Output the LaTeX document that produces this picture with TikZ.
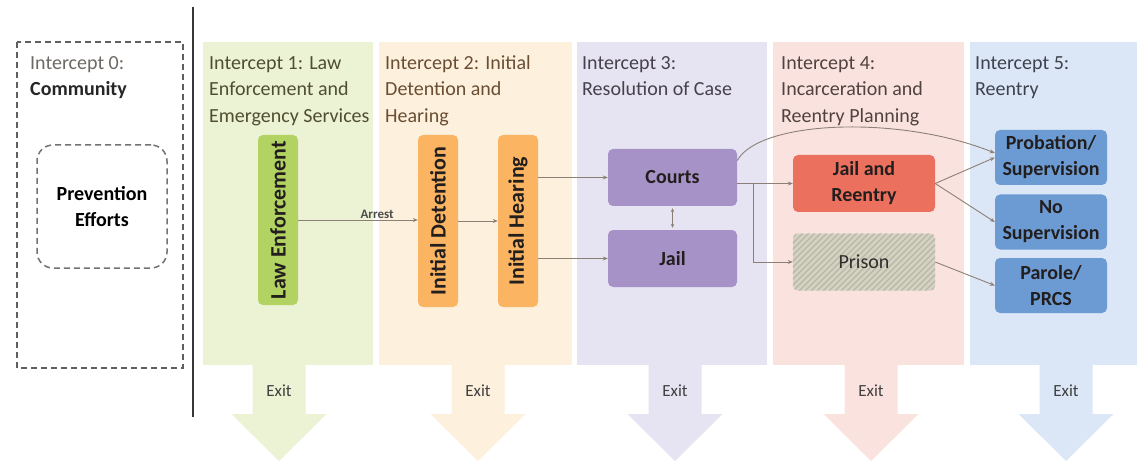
\documentclass[tikz,border=0pt]{standalone}
\usepackage{fontspec}
\setmainfont{Carlito}
\usetikzlibrary{arrows.meta,calc}
\definecolor{pgreen}{RGB}{236,242,212}
\definecolor{porange}{RGB}{253,240,220}
\definecolor{ppurple}{RGB}{230,228,242}
\definecolor{ppink}{RGB}{250,227,223}
\definecolor{pblue}{RGB}{219,231,246}
\definecolor{ngreen}{RGB}{178,210,98}
\definecolor{norange}{RGB}{250,180,98}
\definecolor{npurple}{RGB}{166,146,198}
\definecolor{nred}{RGB}{236,112,94}
\definecolor{nprison}{RGB}{212,210,194}
\definecolor{nhatch}{RGB}{184,182,162}
\definecolor{nblue}{RGB}{108,155,212}
\definecolor{edgecol}{RGB}{140,128,118}
\definecolor{ntext}{RGB}{35,30,30}
\definecolor{tgreen}{RGB}{80,78,48}
\definecolor{torange}{RGB}{105,78,52}
\definecolor{tpurple}{RGB}{70,65,75}
\definecolor{tpink}{RGB}{80,66,62}
\definecolor{tblue}{RGB}{62,66,78}
\definecolor{tgray}{RGB}{110,105,100}
\definecolor{dashcol}{RGB}{95,95,95}
\newcommand{\mynodefont}{\fontsize{20}{26}\selectfont\bfseries}
\newcommand{\myvertfont}{\fontsize{22}{26}\selectfont\bfseries}
\newcommand{\mytitlefont}{\fontsize{20}{26.5}\selectfont}
\tikzset{
  box/.style={rounded corners=5pt, inner sep=0pt, align=center, text=ntext, font=\mynodefont},
  vbox/.style={box, minimum width=40pt, minimum height=170pt, font=\myvertfont},
  hbox/.style={box, minimum width=129pt, minimum height=57pt},
  ibox/.style={box, minimum width=142pt, minimum height=57pt},
  bbox/.style={box, fill=nblue, minimum width=112pt, minimum height=55pt},
  title/.style={anchor=north west, inner sep=0pt, align=left, font=\mytitlefont},
  conn/.style={draw=edgecol, line width=0.9pt, -{Stealth[length=5pt,width=4pt]}},
  exitlbl/.style={font=\fontsize{17}{20}\selectfont, text=black!75, inner sep=0pt},
}
\newcommand{\exitarrow}[2]{\fill[#2] (#1-26.5,364) -- (#1+26.5,364) -- (#1+26.5,414) -- (#1+47.5,414) -- (#1,461) -- (#1-47.5,414) -- (#1-26.5,414) -- cycle;}
\begin{document}
\begin{tikzpicture}[x=1pt,y=-1pt]
\useasboundingbox (0,0) rectangle (1140,465);
\fill[white] (0,0) rectangle (1140,465);
% panels
\fill[pgreen] (203,42) rectangle (373,365);
\fill[porange] (379,42) rectangle (572,365);
\fill[ppurple] (577,42) rectangle (767,365);
\fill[ppink] (773,42) rectangle (964,365);
\fill[pblue] (970,42) rectangle (1137,365);
% exit arrows
\exitarrow{279}{pgreen}
\exitarrow{478}{porange}
\exitarrow{675}{ppurple}
\exitarrow{871}{ppink}
\exitarrow{1066}{pblue}
\node[exitlbl] (x1) at (279,391) {Exit};
\node[exitlbl] (x2) at (478,391) {Exit};
\node[exitlbl] (x3) at (675,391) {Exit};
\node[exitlbl] (x4) at (871,391) {Exit};
\node[exitlbl] (x5) at (1066,391) {Exit};
% separator
\draw[line width=2pt, color=black!78] (193,7) -- (193,417);
% intercept 0
\draw[dashcol, line width=1.6pt, dash pattern=on 6pt off 4pt] (17,42) rectangle (183,368);
\node[title, text=tgray] (t0) at (30,50.5) {\strut Intercept 0:\\{\color{black!85}\bfseries Community}};
\node[box, draw=black!55, dash pattern=on 6pt off 4pt, line width=1.5pt, rounded corners=16pt, minimum width=130pt, minimum height=123pt, text=black] (prev) at (102,206.5) {Prevention\\Efforts};
% titles
\node[title, text=tgreen] (t1) at (209,50.5) {\strut Intercept 1: Law\\Enforcement and\\Emergency Services};
\node[title, text=torange] (t2) at (385,50.5) {\strut Intercept 2: Initial\\Detention and\\Hearing};
\node[title, text=tpurple] (t3) at (582,50.5) {\strut Intercept 3:\\Resolution of Case};
\node[title, text=tpink] (t4) at (781,50.5) {\strut Intercept 4:\\Incarceration and\\Reentry Planning};
\node[title, text=tblue] (t5) at (975,50.5) {\strut Intercept 5:\\Reentry};
% nodes
\node[vbox, fill=ngreen] (le) at (278,220) {\rotatebox{90}{Law Enforcement}};
\node[vbox, fill=norange, minimum height=172pt] (id) at (438,221) {\rotatebox{90}{Initial Detention}};
\node[vbox, fill=norange, minimum height=172pt] (ih) at (518,221) {\rotatebox{90}{Initial Hearing}};
\node[hbox, fill=npurple] (courts) at (672.5,177.5) {Courts};
\node[hbox, fill=npurple] (jail) at (672.5,258.5) {Jail};
\node[ibox, fill=nred] (jr) at (864,183.5) {Jail and\\Reentry};
\node[ibox, fill=nprison] (prison) at (864,262) {};
\begin{scope}
  \clip[rounded corners=5pt] (prison.south west) rectangle (prison.north east);
  \foreach \i in {-60,-54,...,150} {
    \draw[nhatch, line width=1.3pt] (793+\i,291) -- ++(60,-60);
  }
\end{scope}
\node[box, text=black!82, font=\fontsize{20}{26}\selectfont] (prisontxt) at (prison) {Prison};
\node[bbox] (prob) at (1051,157.5) {Probation/\\Supervision};
\node[bbox] (nosup) at (1051,222) {No\\Supervision};
\node[bbox] (parole) at (1051,285.5) {Parole/\\PRCS};
% connectors
\draw[conn] (le.east) -- node[pos=0.66, above, inner sep=0.5pt, font=\fontsize{13}{15}\selectfont\bfseries, text=black!70] {Arrest} (le.east -| id.west);
\draw[conn] (id.east) -- (ih.west);
\draw[conn] (ih.east |- courts.west) -- (courts.west);
\draw[conn] (ih.east |- jail.west) -- (jail.west);
\draw[draw=edgecol, line width=0.9pt, {Stealth[length=4pt,width=3.5pt]}-{Stealth[length=4pt,width=3.5pt]}, shorten <=2pt, shorten >=2pt] (courts.south) -- (jail.north);
\draw[conn] (courts.east |- jr.west) -- (jr.west);
\coordinate (split) at ($(courts.east |- jr.west)+(16,0)$);
\draw[conn] (split) |- (prison.west);
\draw[conn] ([yshift=17pt]courts.east) .. controls (760,120) and (900,115) .. ([yshift=4.5pt]prob.west);
\draw[conn] (jr.east) -- (prob.west);
\draw[conn] (jr.east) -- (nosup.west);
\draw[conn] (prison.east) -- (parole.west);
\end{tikzpicture}
\end{document}
